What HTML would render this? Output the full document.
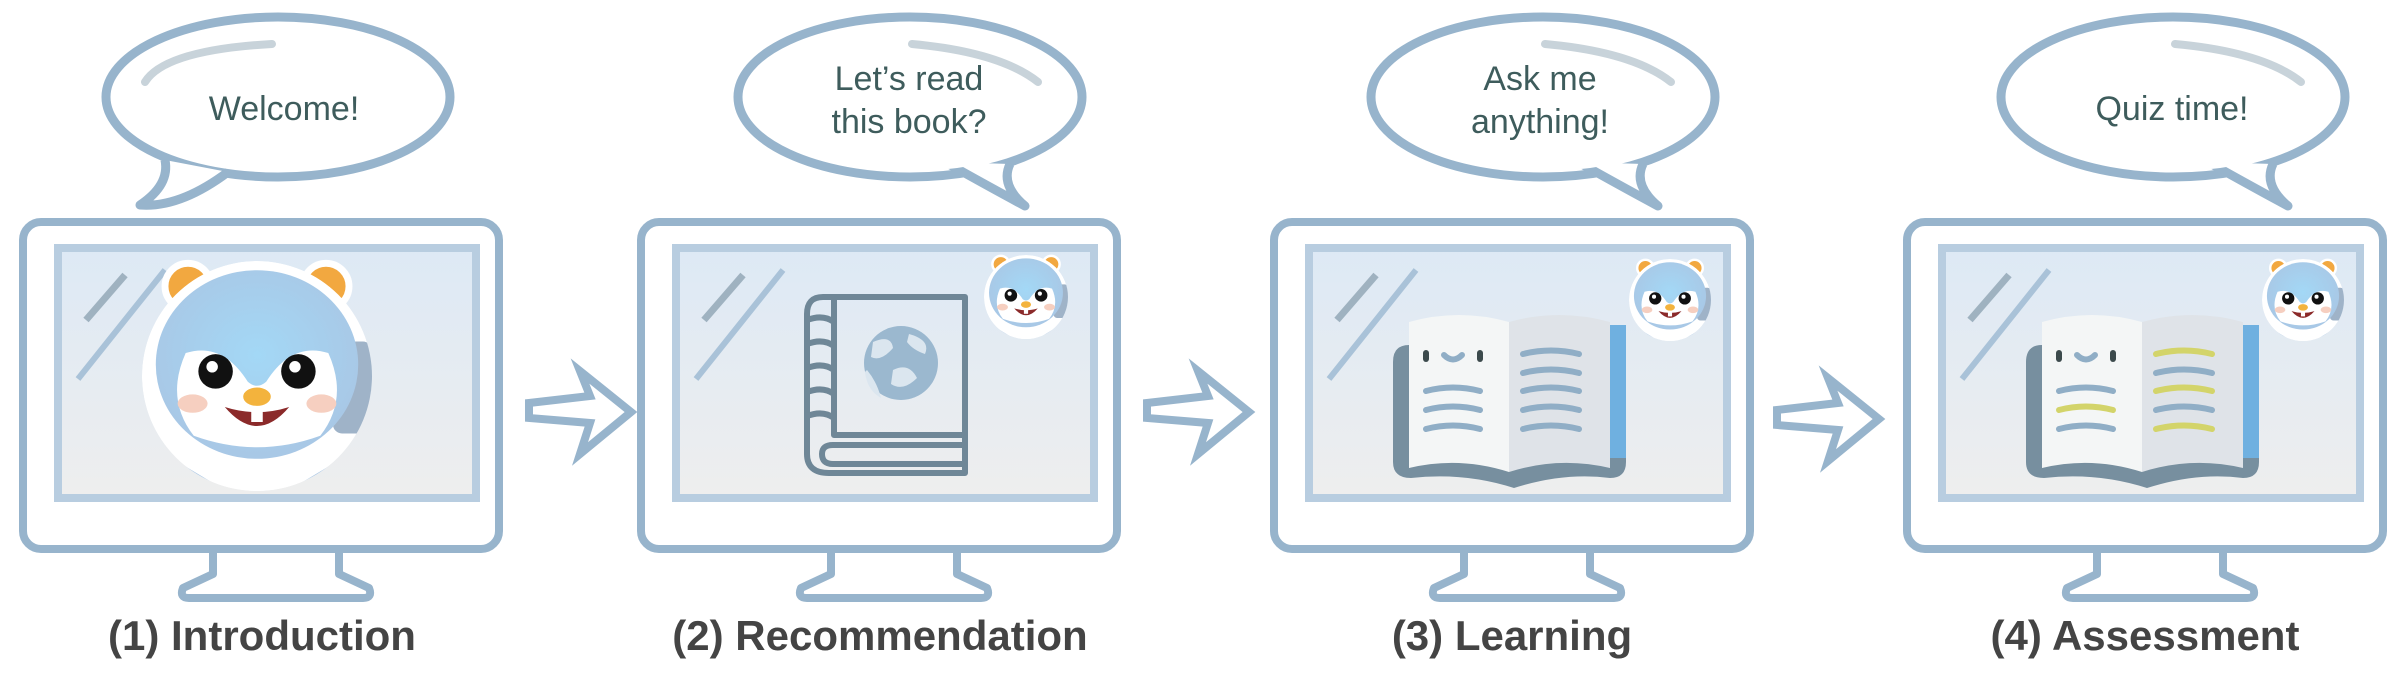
<!DOCTYPE html>
<html><head><meta charset="utf-8"><style>
html,body{margin:0;padding:0;background:#fff;}
svg{display:block;}
</style></head><body>
<svg width="2404" height="680" viewBox="0 0 2404 680" xmlns="http://www.w3.org/2000/svg">
<defs>
<linearGradient id="scr" x1="0" y1="0" x2="0" y2="1">
<stop offset="0" stop-color="#dde9f5"/><stop offset="1" stop-color="#eeeeee"/>
</linearGradient>
<radialGradient id="head" cx="0.5" cy="0.45" r="0.6">
<stop offset="0" stop-color="#a3d8f6"/><stop offset="1" stop-color="#a9c6e4"/>
</radialGradient>
<clipPath id="hc"><circle cx="0" cy="0" r="100"/></clipPath>
<g id="mon">
<rect x="0" y="0" width="476" height="327" rx="18" fill="#fff" stroke="#97b4cc" stroke-width="8"/>
<rect x="35" y="26" width="418" height="250" fill="url(#scr)" stroke="#b8cde0" stroke-width="8"/>
<path d="M190,327 V352 L160,366 Q156,376 166,376 H340 Q350,376 346,366 L316,352 V327" fill="none" stroke="#97b4cc" stroke-width="8" stroke-linejoin="round"/>
<line x1="63" y1="98" x2="102" y2="53" stroke="#9fb2c0" stroke-width="7"/>
<line x1="55" y1="157" x2="142" y2="48" stroke="#a9c2d8" stroke-width="6"/>
</g>
<g id="ham">
<circle cx="-60" cy="-78" r="20" fill="#f2a840" stroke="#fff" stroke-width="6"/>
<circle cx="60" cy="-78" r="20" fill="#f2a840" stroke="#fff" stroke-width="6"/>
<circle cx="0" cy="0" r="100" fill="#fff" fill-opacity="0.01"/>
<g clip-path="url(#hc)">
<circle cx="0" cy="0" r="100" fill="#fff"/>
<rect x="66" y="-30" width="34" height="80" rx="8" fill="#9fb3c8"/>
<ellipse cx="0" cy="100" rx="50" ry="45" fill="#fff"/>
<path d="M-85,65 L-40,92 L-45,112 L-90,85 Z" fill="#a9c6e4"/>
<path d="M85,65 L40,92 L45,112 L90,85 Z" fill="#a9c6e4"/>
<ellipse cx="0" cy="-10" rx="88" ry="82" fill="url(#head)"/>
</g>
<path d="M-62,-20 Q-30,-30 -8,5 Q0,12 8,5 Q30,-30 62,-20 Q80,20 55,52 Q0,72 -55,52 Q-80,20 -62,-20 Z" fill="#fff"/>
<circle cx="-36" cy="-4" r="15" fill="#111"/><circle cx="-39" cy="-8" r="5" fill="#fff"/>
<circle cx="36" cy="-4" r="15" fill="#111"/><circle cx="33" cy="-8" r="5" fill="#fff"/>
<ellipse cx="-56" cy="24" rx="13" ry="8" fill="#f6cfc0"/>
<ellipse cx="56" cy="24" rx="13" ry="8" fill="#f6cfc0"/>
<path d="M-28,27 Q0,60 28,27 Q0,36 -28,27 Z" fill="#8b2a2a"/>
<rect x="-5" y="30" width="10" height="10" fill="#fff"/>
<ellipse cx="0" cy="18" rx="12" ry="8" fill="#f3b33d"/>
</g>
<g id="openbook">
<path d="M119,140 Q119,123 135,123 H352 V240 Q352,256 336,256 Q290,250 240,266 Q190,250 137,256 Q119,256 119,240 Z" fill="#778f9f"/>
<path d="M336,103 H352 V236 H336 Z" fill="#6fb0e0"/>
<path d="M135,100 Q185,86 235,100 V250 Q185,234 135,246 Z" fill="#f4f6f6"/>
<path d="M235,100 Q285,86 336,100 V246 Q285,234 235,250 Z" fill="#dfe3e8"/>
<rect x="149" y="128" width="6" height="12" rx="3" fill="#3c4a4c"/>
<rect x="203" y="128" width="6" height="12" rx="3" fill="#3c4a4c"/>
<path d="M170,133 Q179,142 188,133" fill="none" stroke="#90aec6" stroke-width="6" stroke-linecap="round"/>
</g>
</defs>

<g stroke="#97b4cc" stroke-width="9" fill="#fff">
<ellipse cx="278" cy="97" rx="172" ry="80"/>
<path d="M165,160 Q170,185 140,205 Q180,208 228,172" stroke-linejoin="round"/>
<ellipse cx="278" cy="97" rx="166" ry="74" stroke="none"/>

<ellipse cx="910" cy="97" rx="172" ry="80"/>
<path d="M945,162 Q995,190 1025,206 Q1000,185 1010,164" stroke-linejoin="round"/>
<ellipse cx="910" cy="97" rx="166" ry="74" stroke="none"/>

<ellipse cx="1543" cy="97" rx="172" ry="80"/>
<path d="M1578,162 Q1628,190 1658,206 Q1633,185 1643,164" stroke-linejoin="round"/>
<ellipse cx="1543" cy="97" rx="166" ry="74" stroke="none"/>

<ellipse cx="2173" cy="97" rx="172" ry="80"/>
<path d="M2208,162 Q2258,190 2288,206 Q2263,185 2273,164" stroke-linejoin="round"/>
<ellipse cx="2173" cy="97" rx="166" ry="74" stroke="none"/>
</g>
<g fill="none" stroke="#c8d3da" stroke-width="8" stroke-linecap="round">
<path d="M145,82 Q165,50 272,44"/>
<path d="M912,44 Q1000,52 1038,82"/>
<path d="M1545,44 Q1633,52 1671,82"/>
<path d="M2175,44 Q2263,52 2301,82"/>
</g>
<g font-family="Liberation Sans, sans-serif" font-size="34" fill="#3e5c5c" text-anchor="middle">
<text x="284" y="120">Welcome!</text>
<text x="909" y="90">Let’s read</text>
<text x="909" y="133">this book?</text>
<text x="1540" y="90">Ask me</text>
<text x="1540" y="133">anything!</text>
<text x="2172" y="120">Quiz time!</text>
</g>

<use href="#mon" transform="translate(23,222)"/>
<use href="#mon" transform="translate(641,222)"/>
<use href="#mon" transform="translate(1274,222)"/>
<use href="#mon" transform="translate(1907,222)"/>

<use href="#ham" transform="translate(257,376) scale(1.15)"/>

<g transform="translate(641,222)">
<g fill="none" stroke="#6f8797" stroke-width="6" stroke-linejoin="round">
<path d="M182,75 H324 V251 H188 Q166,251 166,232 V92 Q166,75 182,75 Z"/>
<path d="M193,75 V213 H324"/>
<path d="M324,223 H192 Q181,223 181,232 Q181,242 192,242 H324"/>
<path d="M166,98 Q182,92 193,100 M166,122 Q182,116 193,124 M166,146 Q182,140 193,148 M166,170 Q182,164 193,172 M166,194 Q182,188 193,196"/>
</g>
<circle cx="260" cy="141" r="37" fill="#9bb8cf"/>
<path d="M232,120 Q250,112 252,126 Q240,140 230,135 Z M268,112 Q290,118 284,132 Q272,128 266,120 Z M252,148 Q268,140 276,156 Q262,170 250,162 Z M226,148 Q236,160 240,176 Q226,168 224,150 Z" fill="#dbe6ef"/>
</g>
<use href="#ham" transform="translate(1026,297) scale(0.42)"/>

<g transform="translate(1274,222)">
<use href="#openbook"/>
<g fill="none" stroke="#90aec6" stroke-width="6" stroke-linecap="round">
<path d="M152,169 Q179,162 206,169 M152,188 Q179,181 206,188 M152,207 Q179,200 206,207"/>
<path d="M249,132 Q277,125 305,132 M249,151 Q277,144 305,151 M249,169 Q277,162 305,169 M249,188 Q277,181 305,188 M249,207 Q277,200 305,207"/>
</g>
</g>
<use href="#ham" transform="translate(1670,300) scale(0.41)"/>

<g transform="translate(1907,222)">
<use href="#openbook"/>
<g fill="none" stroke="#90aec6" stroke-width="6" stroke-linecap="round">
<path d="M152,169 Q179,162 206,169 M152,207 Q179,200 206,207"/>
<path d="M249,151 Q277,144 305,151 M249,188 Q277,181 305,188"/>
</g>
<g fill="none" stroke="#d3d46a" stroke-width="6" stroke-linecap="round">
<path d="M152,188 Q179,181 206,188"/>
<path d="M249,132 Q277,125 305,132 M249,169 Q277,162 305,169 M249,207 Q277,200 305,207"/>
</g>
</g>
<use href="#ham" transform="translate(2303,300) scale(0.41)"/>

<g fill="#fff" stroke="#97b4cc" stroke-width="8" stroke-linejoin="miter">
<path transform="translate(529,369)" d="M0,34 L61,27 L51,2 L102,43 L51,85 L61,54 L0,49 Z"/>
<path transform="translate(1147,369)" d="M0,34 L61,27 L51,2 L102,43 L51,85 L61,54 L0,49 Z"/>
<path transform="translate(1777,376)" d="M0,34 L61,27 L51,2 L102,43 L51,85 L61,54 L0,49 Z"/>
</g>

<g font-family="Liberation Sans, sans-serif" font-weight="bold" font-size="42" fill="#444" text-anchor="middle">
<text x="262" y="650">(1) Introduction</text>
<text x="880" y="650">(2) Recommendation</text>
<text x="1512" y="650">(3) Learning</text>
<text x="2145" y="650">(4) Assessment</text>
</g>
</svg>
</body></html>
